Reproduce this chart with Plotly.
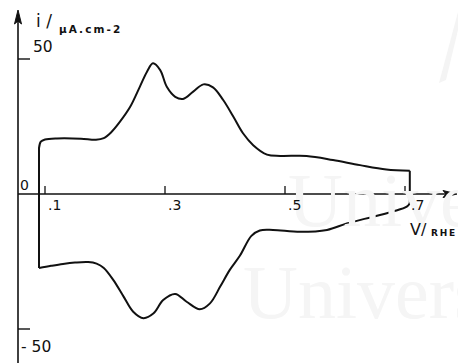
import plotly.graph_objects as go

# Cyclic voltammogram: current density (µA cm-2) vs potential (V / RHE)
anodic_v = [0.090, 0.093, 0.100, 0.120, 0.160, 0.185, 0.198, 0.210, 0.225, 0.242, 0.258,
            0.270, 0.280, 0.292, 0.303, 0.317, 0.330, 0.347, 0.364, 0.380, 0.397,
            0.414, 0.430, 0.447, 0.470, 0.492, 0.536, 0.580, 0.625, 0.669, 0.708]
anodic_i = [17.0, 19.4, 20.2, 20.6, 20.5, 20.1, 20.7, 22.8, 26.8, 32.3, 39.7,
            45.3, 48.4, 45.9, 39.7, 36.0, 35.2, 37.9, 40.6, 39.5, 34.8,
            28.6, 22.5, 18.1, 14.6, 14.1, 14.1, 12.6, 10.7, 9.1, 8.6]

cathodic_v = [0.708, 0.703, 0.680, 0.647, 0.603, 0.570, 0.525, 0.480, 0.458, 0.444,
              0.425, 0.408, 0.392, 0.375, 0.358, 0.336, 0.317, 0.297, 0.281, 0.264,
              0.247, 0.231, 0.214, 0.198, 0.186, 0.172, 0.150, 0.130, 0.110, 0.090]
cathodic_i = [-3.4, -4.7, -6.5, -8.4, -10.9, -13.3, -14.0, -13.3, -13.5, -15.5,
              -22.8, -28.1, -34.3, -40.5, -42.7, -39.9, -37.0, -39.3, -44.2, -46.0,
              -43.6, -38.0, -31.9, -27.4, -25.8, -25.2, -25.4, -25.9, -26.6, -27.4]

x_ticks = [0.1, 0.3, 0.5, 0.7]
x_tick_text = [".1", ".3", ".5", ".7"]
y_ticks = [50, -50]
y_tick_text = ["50", "- 50"]

W, H = 458, 363
X0, XSCALE = 0.025, 600.0      # potential at left edge, px per volt
Y0PX, YSCALE = 194.0, 2.7      # pixel row of i = 0, px per µA cm-2
X_RANGE = [X0, X0 + W / XSCALE]
Y_RANGE = [(Y0PX - H) / YSCALE, Y0PX / YSCALE]


def px2v(px):
    return X0 + px / XSCALE


def py2i(py):
    return (Y0PX - py) / YSCALE


AXIS_V = px2v(18)          # vertical current axis drawn left of the scan window
INK = "#111111"
FONT = "DejaVu Sans"
THIN = "\u2009"

fig = go.Figure()

# faint watermark behind the plot
for txt, xp, yp in [("Univer", 286, 200), ("Univers", 241, 292)]:
    fig.add_annotation(x=px2v(xp), y=py2i(yp), text=txt, showarrow=False,
                       xanchor="left", yanchor="middle",
                       font=dict(family="Liberation Serif", size=76, color="#f5f5f5"))

curve = dict(color=INK, width=2)
fig.add_trace(go.Scatter(x=anodic_v, y=anodic_i, mode="lines",
                         line=dict(shape="spline", smoothing=1.0, **curve), hoverinfo="skip"))
fig.add_trace(go.Scatter(x=cathodic_v, y=cathodic_i, mode="lines",
                         line=dict(shape="spline", smoothing=1.0, **curve), hoverinfo="skip"))
# potential reversal edges
fig.add_trace(go.Scatter(x=[cathodic_v[-1], anodic_v[0]], y=[cathodic_i[-1], anodic_i[0]],
                         mode="lines", line=curve, hoverinfo="skip"))
fig.add_trace(go.Scatter(x=[anodic_v[-1], cathodic_v[0]], y=[anodic_i[-1], cathodic_i[0]],
                         mode="lines", line=curve, hoverinfo="skip"))

axis_line = dict(color=INK, width=1.6)
shapes = []
# faint logo stroke, top right
shapes.append(dict(type="path",
                   path=f"M {px2v(439)} {py2i(83)} L {px2v(446)} {py2i(80)} L {px2v(458)} {py2i(30)} "
                        f"L {px2v(458)} {py2i(12)} Z",
                   fillcolor="#f4f4f4", line=dict(width=0), layer="below"))
# x axis with arrow
shapes.append(dict(type="line", x0=AXIS_V, x1=px2v(450), y0=0, y1=0, line=axis_line))
shapes.append(dict(type="path",
                   path=f"M {px2v(457)} 0 L {px2v(443)} {py2i(190.5)} L {px2v(446)} 0 "
                        f"L {px2v(443)} {py2i(197.5)} Z",
                   fillcolor=INK, line=dict(color=INK, width=1)))
# y axis with arrow
shapes.append(dict(type="line", x0=AXIS_V, x1=AXIS_V, y0=Y_RANGE[0] - 5, y1=py2i(20),
                   line=axis_line))
shapes.append(dict(type="path",
                   path=f"M {AXIS_V} {py2i(10)} L {px2v(14.5)} {py2i(24)} L {AXIS_V} {py2i(21)} "
                        f"L {px2v(21.5)} {py2i(24)} Z",
                   fillcolor=INK, line=dict(color=INK, width=1)))
# x tick marks
for v in x_ticks:
    shapes.append(dict(type="line", x0=v, x1=v, y0=0, y1=3.0, line=dict(color=INK, width=1.3)))
# y tick marks
for i in y_ticks:
    shapes.append(dict(type="line", x0=AXIS_V, x1=px2v(30), y0=i, y1=i,
                       line=dict(color=INK, width=1.4)))
fig.update_layout(shapes=shapes)

# tick labels
for v, t in zip(x_ticks, x_tick_text):
    fig.add_annotation(x=v, y=py2i(205), text=t, showarrow=False, xanchor="left",
                       yanchor="middle", xshift=1 if v < 0.65 else 4,
                       font=dict(family=FONT, size=14, color=INK))
fig.add_annotation(x=px2v(31), y=py2i(47), text=y_tick_text[0], showarrow=False,
                   xanchor="left", yanchor="middle", font=dict(family=FONT, size=15.5, color=INK))
fig.add_annotation(x=px2v(19), y=py2i(347), text=y_tick_text[1], showarrow=False,
                   xanchor="left", yanchor="middle", font=dict(family=FONT, size=15.5, color=INK))
fig.add_annotation(x=px2v(18), y=py2i(185), text="0", showarrow=False,
                   xanchor="left", yanchor="middle", font=dict(family=FONT, size=14, color=INK))

# axis titles
fig.add_annotation(x=px2v(34), y=py2i(21), text="i /", showarrow=False, xanchor="left",
                   yanchor="middle", font=dict(family=FONT, size=17, color=INK))
fig.add_annotation(x=px2v(57), y=py2i(29), text="<b>" + THIN.join("μA.cm-2") + "</b>",
                   showarrow=False, xanchor="left", yanchor="middle",
                   font=dict(family=FONT, size=10.5, color=INK))
fig.add_annotation(x=px2v(408), y=py2i(229), text="V/", showarrow=False, xanchor="left",
                   yanchor="middle", font=dict(family=FONT, size=16, color=INK))
fig.add_annotation(x=px2v(429), y=py2i(233), text="<b>" + THIN.join("RHE") + "</b>",
                   showarrow=False, xanchor="left", yanchor="middle",
                   font=dict(family=FONT, size=9, color=INK))

fig.update_xaxes(range=X_RANGE, visible=False, fixedrange=True)
fig.update_yaxes(range=Y_RANGE, visible=False, fixedrange=True)
fig.update_layout(width=W, height=H, margin=dict(l=0, r=0, t=0, b=0),
                  paper_bgcolor="white", plot_bgcolor="white", showlegend=False)

fig.write_html("out.html", config={"displayModeBar": False})
